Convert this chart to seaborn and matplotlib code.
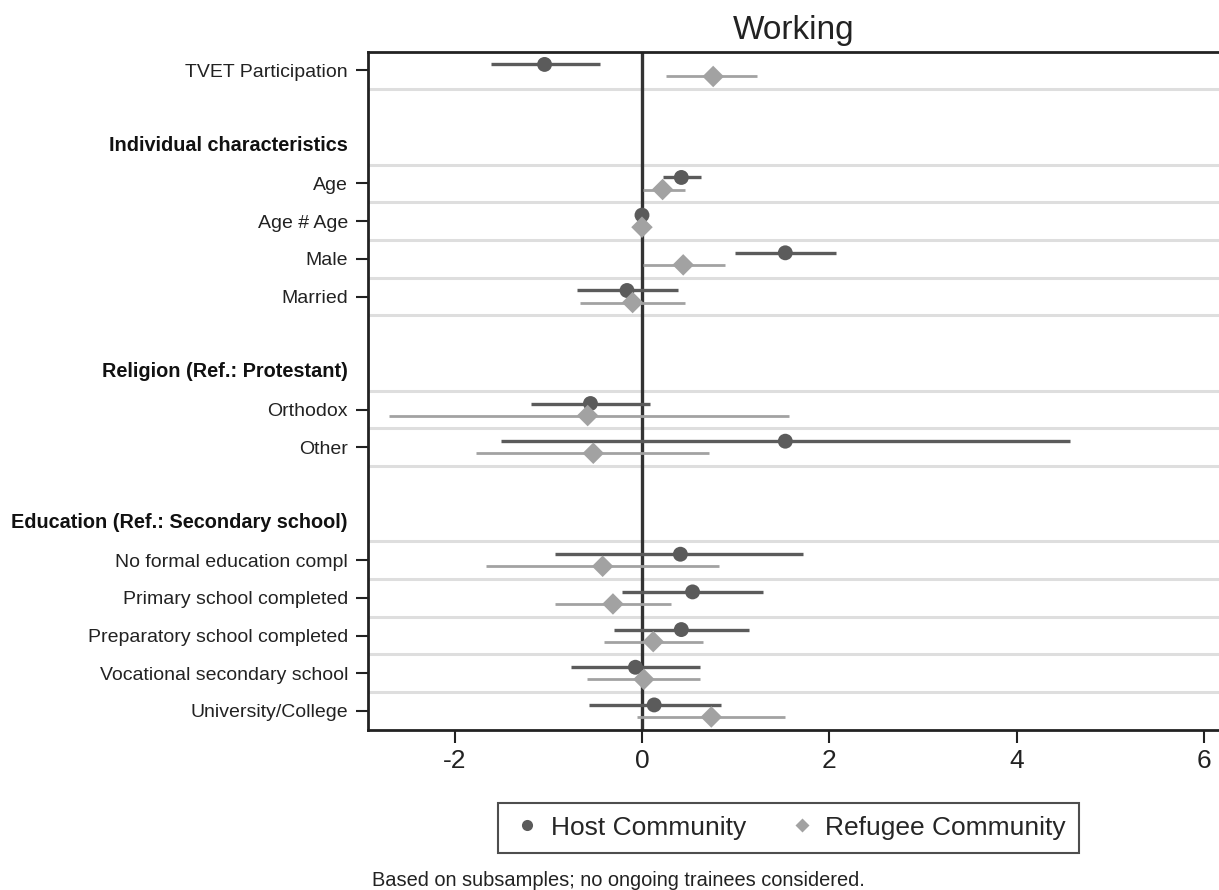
import numpy as np
import pandas as pd
import matplotlib
matplotlib.use("Agg")
import matplotlib.pyplot as plt
import seaborn as sns
from matplotlib.lines import Line2D
from matplotlib import transforms

# Filas del grafico: '' = fila vacia, 'H:' = encabezado de grupo
filas = ['TVET Participation', '', 'H:Individual characteristics',
         'Age', 'Age # Age', 'Male', 'Married', '',
         'H:Religion (Ref.: Protestant)', 'Orthodox', 'Other', '',
         'H:Education (Ref.: Secondary school)', 'No formal education compl',
         'Primary school completed', 'Preparatory school completed',
         'Vocational secondary school', 'University/College']

variables = ['TVET Participation', 'Age', 'Age # Age', 'Male', 'Married',
             'Orthodox', 'Other', 'No formal education compl',
             'Primary school completed', 'Preparatory school completed',
             'Vocational secondary school', 'University/College']

# Coeficientes e intervalos
host_coef = [-1.04, 0.42, 0.00, 1.53, -0.16, -0.55, 1.53, 0.41, 0.54, 0.42, -0.07, 0.13]
host_lo = [-1.61, 0.22, -0.01, 0.99, -0.69, -1.19, -1.51, -0.93, -0.21, -0.30, -0.76, -0.57]
host_hi = [-0.45, 0.63, 0.01, 2.07, 0.38, 0.09, 4.57, 1.72, 1.29, 1.14, 0.62, 0.84]

ref_coef = [0.76, 0.22, 0.00, 0.44, -0.10, -0.58, -0.52, -0.42, -0.31, 0.12, 0.02, 0.74]
ref_lo = [0.26, 0.01, -0.01, 0.01, -0.66, -2.70, -1.77, -1.67, -0.93, -0.41, -0.59, -0.05]
ref_hi = [1.23, 0.46, 0.01, 0.89, 0.46, 1.57, 0.72, 0.82, 0.31, 0.65, 0.62, 1.53]

grupos = ['Host Community', 'Refugee Community']
colores = {'Host Community': '#5b5b5b', 'Refugee Community': '#a2a2a2'}
marcadores = {'Host Community': 'o', 'Refugee Community': 'D'}
desplaz = {'Host Community': -0.16, 'Refugee Community': 0.16}

xticks = [-2, 0, 2, 4, 6]


def main():
    sns.set_theme(style="white")
    plt.rcParams['font.family'] = ['Liberation Sans', 'DejaVu Sans']

    pos = {f: i for i, f in enumerate(filas) if f and not f.startswith('H:')}

    partes = []
    for g, c, lo, hi in [(grupos[0], host_coef, host_lo, host_hi),
                         (grupos[1], ref_coef, ref_lo, ref_hi)]:
        d = pd.DataFrame({'var': variables, 'coef': c, 'lo': lo, 'hi': hi})
        d['grupo'] = g
        d['y'] = d['var'].map(pos) + desplaz[g]
        partes.append(d)
    df = pd.concat(partes, ignore_index=True)

    fig = plt.figure(figsize=(12.19, 8.90), dpi=100)
    ax = fig.add_axes([0.3015, 0.18, 0.6985, 0.762])

    # lineas de separacion
    for i, f in enumerate(filas[:-1]):
        if f:
            ax.axhline(i + 0.5, color='#dedede', lw=2.2, zorder=1)
    ax.axvline(0, color='#333333', lw=2.4, zorder=2)

    for g in grupos:
        sub = df[df['grupo'] == g]
        ax.hlines(sub['y'], sub['lo'], sub['hi'], color=colores[g],
                  lw=2.4 if g == grupos[0] else 2.0, zorder=3)
        sns.scatterplot(data=sub, x='coef', y='y', marker=marcadores[g],
                        color=colores[g], s=115 if g == grupos[0] else 120,
                        edgecolor='none', linewidth=0, ax=ax, zorder=4, legend=False)

    ax.set_xlim(-2.93, 6.16)
    ax.set_ylim(len(filas) - 0.5, -0.5)
    ax.set_xlabel('')
    ax.set_ylabel('')

    ax.set_yticks(list(pos.values()))
    ax.set_yticklabels(list(pos.keys()), fontsize=14, color='#222222')
    ax.set_xticks(xticks)
    ax.set_xticklabels([str(t) for t in xticks], fontsize=19, color='#222222')
    ax.tick_params(axis='y', length=9, width=1.5, pad=5, color='#222222', left=True)
    ax.tick_params(axis='x', length=9, width=1.5, pad=5, color='#222222', bottom=True)

    trans = transforms.blended_transform_factory(ax.transAxes, ax.transData)
    for i, f in enumerate(filas):
        if f.startswith('H:'):
            ax.text(-0.023, i, f[2:], transform=trans, ha='right', va='center',
                    fontsize=14.3, fontweight='bold', color='#111111')

    for lado in ['left', 'top', 'bottom']:
        ax.spines[lado].set_color('#222222')
        ax.spines[lado].set_linewidth(2)
    ax.spines['right'].set_visible(False)

    ax.set_title('Working', fontsize=24, pad=9, color='#222222')

    manejadores = [Line2D([0], [0], marker=marcadores[g], color='none',
                          markerfacecolor=colores[g], markeredgecolor='none',
                          markersize=8 if g == grupos[0] else 7, label=g) for g in grupos]
    leg = fig.legend(handles=manejadores, loc='center', bbox_to_anchor=(0.647, 0.07),
                     ncol=2, fontsize=19, frameon=True, fancybox=False,
                     edgecolor='#222222', handletextpad=0.3, columnspacing=1.5,
                     borderpad=0.5, handlelength=1.2)
    leg.get_frame().set_linewidth(1.5)

    fig.text(372 / 1219, 1 - 880 / 890, 'Based on subsamples; no ongoing trainees considered.',
             fontsize=14.4, va='center', ha='left', color='#222222')

    fig.savefig('out.png', dpi=100)
    plt.close(fig)


if __name__ == "__main__":
    main()
